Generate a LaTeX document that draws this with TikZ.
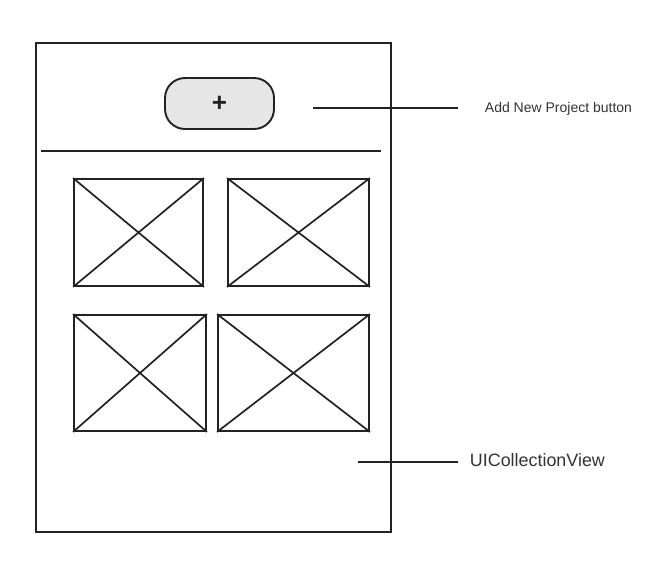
\documentclass[tikz,border=0pt]{standalone}
\usepackage{fontspec}
\setmainfont{Liberation Sans}
\usetikzlibrary{positioning}
\definecolor{wire}{HTML}{222222}
\definecolor{btnfill}{HTML}{E6E6E6}
\definecolor{note}{HTML}{333333}

\begin{document}
\begin{tikzpicture}[x=1pt,y=-1pt,line width=1.9pt,draw=wire]
  \tikzstyle{frame}=[draw=wire,rectangle,inner sep=0pt,minimum width=355pt,minimum height=489pt]
  \tikzstyle{pill}=[draw=wire,fill=btnfill,rounded corners=20pt,inner sep=0pt,
                    minimum width=109pt,minimum height=51pt,font=\fontsize{26}{26}\selectfont\bfseries,text=wire]
  \tikzstyle{picbox}=[draw=wire,rectangle,inner sep=0pt]
  \tikzstyle{callout}=[inner sep=0pt,anchor=base west,text=note]

  \useasboundingbox (0,0) rectangle (668,566);

  \node[frame] (screen) at (213.5,287.5) {};
  \node[pill]  (addbtn) at (219.5,103.5) {+};

  \coordinate (divl) at (41,151);
  \coordinate (divr) at (381,151);
  \draw (divl) -- (divr);

  \node[picbox,minimum width=129pt,minimum height=107pt] (pic1) at (138.5,232.5) {};
  \node[picbox,minimum width=141pt,minimum height=107pt] (pic2) at (298.5,232.5) {};
  \node[picbox,minimum width=132pt,minimum height=116pt] (pic3) at (140,373)   {};
  \node[picbox,minimum width=151pt,minimum height=116pt] (pic4) at (293.5,373) {};

  \foreach \p in {pic1,pic2,pic3,pic4}
    \draw[line width=1.7pt] (\p.north west) -- (\p.south east)
                            (\p.south west) -- (\p.north east);

  \node[callout,font=\fontsize{14}{14}\selectfont] (addlbl) at (484,112.3) {Add New Project button};
  \node[callout,font=\fontsize{17.9}{17.9}\selectfont] (cvlbl) at (469,466.7) {UICollectionView};

  \coordinate (addtip) at (313,108);
  \coordinate (cvtip)  at (358,462);
  \draw[shorten >=26pt] (addtip) -- (addtip -| addlbl.west);
  \draw[shorten >=11pt] (cvtip)  -- (cvtip -| cvlbl.west);
\end{tikzpicture}
\end{document}
